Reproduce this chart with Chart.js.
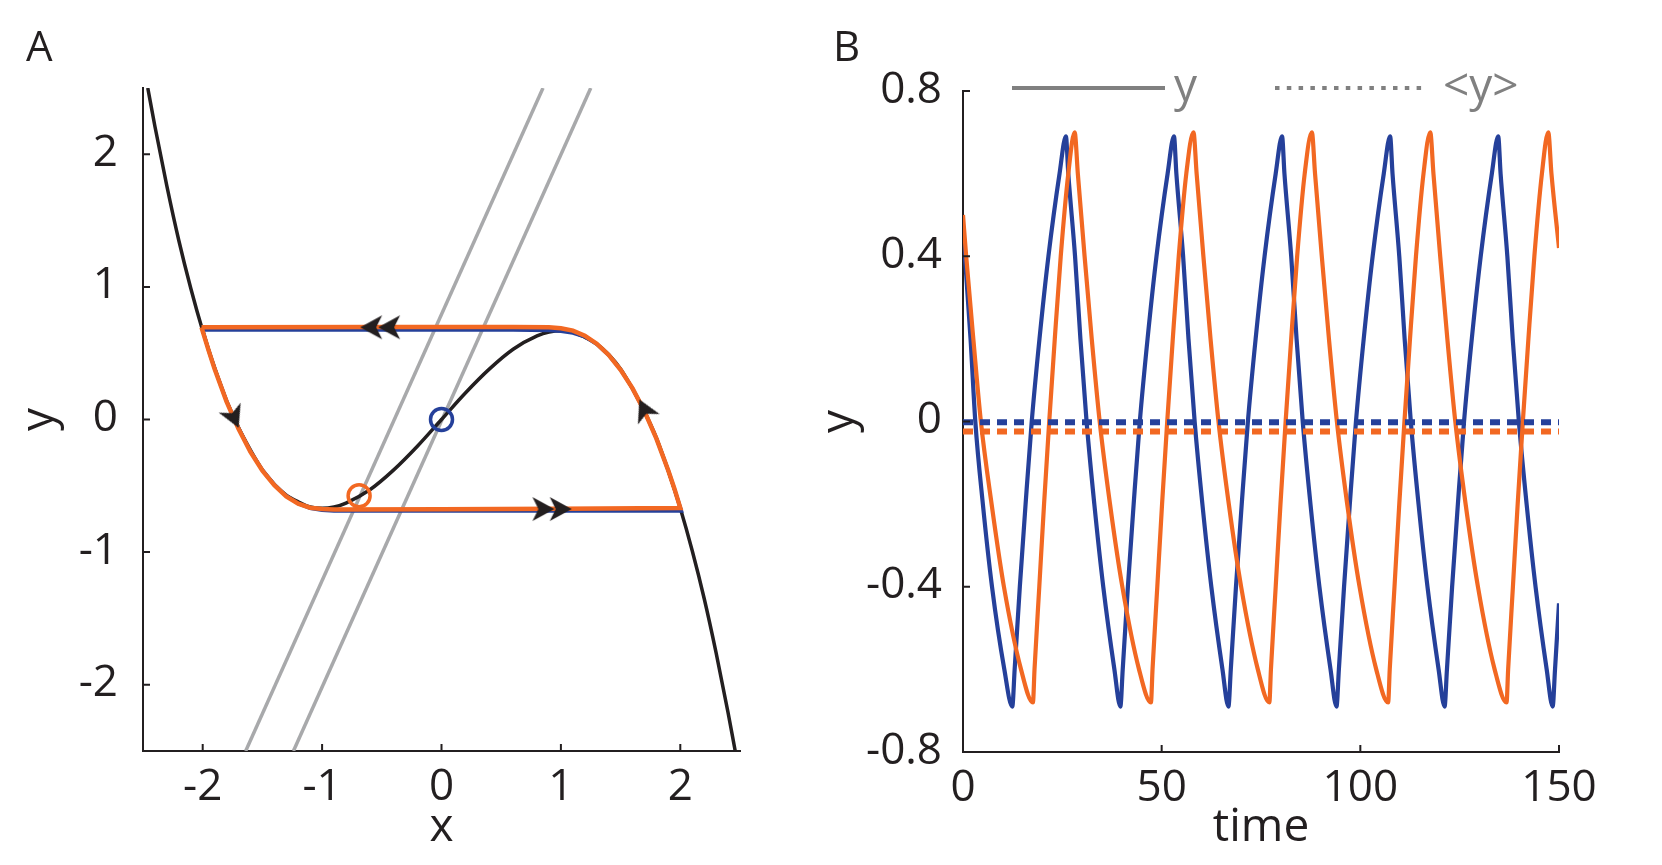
<!DOCTYPE html>
<html>
<head>
<meta charset="utf-8">
<script src="https://cdn.jsdelivr.net/npm/chart.js"></script>
<style>
  html, body { margin: 0; padding: 0; background: #fff; }
  body { width: 1662px; height: 865px; position: relative; overflow: hidden; }
  canvas { position: absolute; top: 0; }
  #phase { left: 0; }
  #trace { left: 800px; }
</style>
</head>
<body>
<canvas id="phase" width="800" height="865"></canvas>
<canvas id="trace" width="862" height="865"></canvas>
<script>
// panel A: phase plane
const xTicksA = [-2, -1, 0, 1, 2]
const xLabelsA = ['-2', '-1', '0', '1', '2']
const yTicksA = [-2, -1, 0, 1, 2]
const yLabelsA = ['-2', '-1', '0', '1', '2']

// cubic nullcline (black)
const cubicX = [-2.46, -2.4, -2.3, -2.2, -2.1, -2.0, -1.9, -1.8, -1.7, -1.6, -1.5, -1.4, -1.3, -1.2, -1.1, -1.0, -0.9, -0.8, -0.6, -0.4, -0.2, 0,
  0.2, 0.4, 0.6, 0.8, 0.9, 1.0, 1.1, 1.2, 1.3, 1.4, 1.5, 1.6, 1.7, 1.8, 1.9, 2.0, 2.1, 2.2, 2.3, 2.4, 2.46]
const cubicY = [2.50, 2.21, 1.76, 1.35, 0.99, 0.67, 0.39, 0.14, -0.06, -0.23, -0.38, -0.49, -0.57, -0.62, -0.66, -0.67, -0.66, -0.63, -0.53, -0.38, -0.20, 0,
  0.20, 0.38, 0.53, 0.63, 0.66, 0.67, 0.66, 0.62, 0.57, 0.49, 0.38, 0.23, 0.06, -0.14, -0.39, -0.67, -0.99, -1.35, -1.76, -2.21, -2.50]

// straight nullclines (grey)
const line1X = [-1.64, 0.85]
const line1Y = [-2.5, 2.5]
const line2X = [-1.24, 1.25]
const line2Y = [-2.5, 2.5]

// limit cycles
const cycleBlueX = [-2.0, -1.95, -1.9, -1.8, -1.7, -1.6, -1.5, -1.4, -1.3, -1.2, -1.1, -1.0, -0.9, 0, 1.0, 2.01,
  1.95, 1.9, 1.8, 1.7, 1.6, 1.5, 1.4, 1.3, 1.2, 1.1, 1.0, 0.9, 0.6, -2.0]
const cycleBlueY = [0.675, 0.52, 0.385, 0.14, -0.065, -0.24, -0.38, -0.49, -0.575, -0.635, -0.67, -0.685, -0.69, -0.69, -0.69, -0.69,
  -0.52, -0.386, -0.144, 0.062, 0.235, 0.375, 0.485, 0.568, 0.624, 0.652, 0.666, 0.672, 0.675, 0.675]
const cycleOrangeX = [-2.01, -1.95, -1.9, -1.8, -1.7, -1.6, -1.5, -1.4, -1.3, -1.2, -1.1, -1.0, -0.9, 0, 1.0, 2.0,
  1.95, 1.9, 1.8, 1.7, 1.6, 1.5, 1.4, 1.3, 1.2, 1.1, 1.0, 0.9, 0.6, -0.5, -2.01]
const cycleOrangeY = [0.695, 0.52, 0.38, 0.135, -0.07, -0.245, -0.385, -0.495, -0.58, -0.635, -0.665, -0.675, -0.678, -0.676, -0.673, -0.667,
  -0.52, -0.386, -0.144, 0.062, 0.235, 0.375, 0.487, 0.572, 0.632, 0.67, 0.688, 0.695, 0.697, 0.697, 0.695]

// fixed points
const fixedBlueX = [0]
const fixedBlueY = [0]
const fixedOrangeX = [-0.69]
const fixedOrangeY = [-0.575]

// direction arrows
const leftArrowX = [-0.58, -0.43]
const leftArrowY = [0.695, 0.695]
const rightArrowX = [0.845, 0.99]
const rightArrowY = [-0.675, -0.675]
const downArrowX = [-1.74]
const downArrowY = [0.02]
const upArrowX = [1.7]
const upArrowY = [0.07]

// panel B: time traces
const xTicksB = [0, 50, 100, 150]
const xLabelsB = ['0', '50', '100', '150']
const yTicksB = [-0.8, -0.4, 0, 0.4, 0.8]
const yLabelsB = ['-0.8', '-0.4', '0', '0.4', '0.8']

const blueT = [0, 0.7, 1.9, 3.1, 5.0, 7.3, 10.4, 12.4,
  13.0, 14.3, 15.75, 17.3, 19.25, 21.5, 24.3, 25.9,
  26.5, 28.2, 29.55, 31.1, 33.05, 35.3, 38.1, 39.6,
  40.2, 41.5, 42.95, 44.5, 46.45, 48.7, 51.5, 53.1,
  53.7, 55.4, 56.75, 58.3, 60.25, 62.5, 65.3, 66.8,
  67.4, 68.7, 70.15, 71.7, 73.65, 75.9, 78.7, 80.3,
  80.9, 82.6, 83.95, 85.5, 87.45, 89.7, 92.5, 94.0,
  94.6, 95.9, 97.35, 98.9, 100.85, 103.1, 105.9, 107.5,
  108.1, 109.8, 111.15, 112.7, 114.65, 116.9, 119.7, 121.2,
  121.8, 123.1, 124.55, 126.1, 128.05, 130.3, 133.1, 134.7,
  135.3, 137.0, 138.35, 139.9, 141.85, 144.1, 146.9, 148.4,
  149.0, 150]
const blueY = [0.45, 0.37, 0.2, 0, -0.2, -0.4, -0.6, -0.69,
  -0.6, -0.4, -0.2, 0, 0.2, 0.4, 0.6, 0.69,
  0.6, 0.4, 0.2, 0, -0.2, -0.4, -0.6, -0.69,
  -0.6, -0.4, -0.2, 0, 0.2, 0.4, 0.6, 0.69,
  0.6, 0.4, 0.2, 0, -0.2, -0.4, -0.6, -0.69,
  -0.6, -0.4, -0.2, 0, 0.2, 0.4, 0.6, 0.69,
  0.6, 0.4, 0.2, 0, -0.2, -0.4, -0.6, -0.69,
  -0.6, -0.4, -0.2, 0, 0.2, 0.4, 0.6, 0.69,
  0.6, 0.4, 0.2, 0, -0.2, -0.4, -0.6, -0.69,
  -0.6, -0.4, -0.2, 0, 0.2, 0.4, 0.6, 0.69,
  0.6, 0.4, 0.2, 0, -0.2, -0.4, -0.6, -0.69,
  -0.6, -0.44]

const orangeT = [0, 0.8, 2.6, 4.5, 7.2, 10.3, 14.6, 17.6,
  18.0, 19.2, 20.4, 21.7, 23.1, 24.6, 26.5, 28.1,
  28.9, 30.6, 32.4, 34.4, 37.0, 40.1, 44.3, 47.3,
  47.7, 48.9, 50.1, 51.4, 52.8, 54.3, 56.2, 58.0,
  58.8, 60.5, 62.3, 64.3, 66.9, 70.0, 74.2, 77.1,
  77.5, 78.7, 79.9, 81.2, 82.6, 84.1, 86.0, 87.8,
  88.6, 90.3, 92.1, 94.1, 96.7, 99.8, 104.0, 107.0,
  107.4, 108.6, 109.8, 111.1, 112.5, 114.0, 115.9, 117.6,
  118.4, 120.1, 121.9, 123.9, 126.5, 129.6, 133.8, 136.8,
  137.2, 138.4, 139.6, 140.9, 142.3, 143.8, 145.7, 147.3,
  148.1, 150]
const orangeY = [0.5, 0.4, 0.2, 0, -0.2, -0.4, -0.6, -0.68,
  -0.6, -0.4, -0.2, 0, 0.2, 0.4, 0.6, 0.7,
  0.6, 0.4, 0.2, 0, -0.2, -0.4, -0.6, -0.68,
  -0.6, -0.4, -0.2, 0, 0.2, 0.4, 0.6, 0.7,
  0.6, 0.4, 0.2, 0, -0.2, -0.4, -0.6, -0.68,
  -0.6, -0.4, -0.2, 0, 0.2, 0.4, 0.6, 0.7,
  0.6, 0.4, 0.2, 0, -0.2, -0.4, -0.6, -0.68,
  -0.6, -0.4, -0.2, 0, 0.2, 0.4, 0.6, 0.7,
  0.6, 0.4, 0.2, 0, -0.2, -0.4, -0.6, -0.68,
  -0.6, -0.4, -0.2, 0, 0.2, 0.4, 0.6, 0.7,
  0.6, 0.42]

const meanT = [0, 150]
const blueMean = [-0.002, -0.002]
const orangeMean = [-0.024, -0.024]

const keyLabels = ['y', '<y>']

const ink = '#231f20'
const blue = '#25409a'
const orange = '#f26822'
const grey = '#a8a9ab'
const keyGrey = '#808080'
const family = 'Open Sans'

const pts = (xs, ys) => xs.map((x, i) => ({x, y: ys[i]}))

// arrowhead used as point style
const chevron = document.createElement('canvas')
chevron.width = 26
chevron.height = 26
const cc = chevron.getContext('2d')
cc.fillStyle = ink
cc.beginPath()
cc.moveTo(25, 13)
cc.lineTo(3, 1)
cc.lineTo(9, 13)
cc.lineTo(3, 25)
cc.closePath()
cc.fill()

function axis(o) {
  return {
    type: 'linear',
    min: o.min,
    max: o.max,
    afterBuildTicks: s => { s.ticks = o.ticks.map(v => ({value: v})) },
    afterFit: s => {
      if (o.width) s.width = o.width
      if (o.height) s.height = o.height
    },
    grid: {display: false, drawTicks: false},
    border: {display: true, color: ink, width: 2},
    ticks: {
      autoSkip: false, maxRotation: 0, color: ink,
      font: {family, size: 44},
      padding: o.pad, labelOffset: o.off || 0,
      callback: (v, i) => o.labels[i]
    },
    title: {display: true, text: o.title, color: ink, font: {family, size: 46}, padding: o.titlePad}
  }
}

// tick marks pointing into the plot
const inTicks = {
  id: 'inTicks',
  afterDraw(chart) {
    const {ctx, chartArea: a, scales: {x, y}} = chart
    ctx.save()
    ctx.strokeStyle = ink
    ctx.lineWidth = 2
    ctx.beginPath()
    x.ticks.forEach(t => {
      const p = x.getPixelForValue(t.value)
      ctx.moveTo(p, a.bottom)
      ctx.lineTo(p, a.bottom - 7)
    })
    y.ticks.forEach(t => {
      const p = y.getPixelForValue(t.value)
      ctx.moveTo(a.left, p)
      ctx.lineTo(a.left + 7, p)
    })
    ctx.stroke()
    ctx.restore()
  }
}

const panelTag = {
  id: 'panelTag',
  afterDraw(chart, args, opts) {
    const ctx = chart.ctx
    ctx.save()
    ctx.fillStyle = ink
    ctx.font = '42px "' + family + '"'
    ctx.textBaseline = 'alphabetic'
    ctx.fillText(opts.text, opts.x, opts.y)
    ctx.restore()
  }
}

const traceKey = {
  id: 'traceKey',
  afterDraw(chart) {
    const ctx = chart.ctx
    ctx.save()
    ctx.strokeStyle = keyGrey
    ctx.fillStyle = keyGrey
    ctx.lineWidth = 4
    ctx.beginPath()
    ctx.moveTo(212, 88)
    ctx.lineTo(365, 88)
    ctx.stroke()
    ctx.setLineDash([4.5, 7.3])
    ctx.beginPath()
    ctx.moveTo(475, 88)
    ctx.lineTo(628, 88)
    ctx.stroke()
    ctx.font = '46px "' + family + '"'
    ctx.textBaseline = 'alphabetic'
    ctx.fillText(keyLabels[0], 374, 101)
    ctx.fillText(keyLabels[1], 643, 101)
    ctx.restore()
  }
}

const line = (data, color, width, order, extra) => Object.assign({
  data, borderColor: color, borderWidth: width, showLine: true,
  pointRadius: 0, tension: 0, order, fill: false
}, extra || {})

const arrows = (data, rot) => ({
  data, showLine: false, pointStyle: chevron, pointRadius: 10,
  rotation: rot, pointRotation: rot, order: 0
})

const ring = (data, color) => ({
  data, showLine: false, pointRadius: 11, pointBorderWidth: 3.5,
  pointBorderColor: color, pointBackgroundColor: 'rgba(0,0,0,0)', order: 1
})

function draw() {
  new Chart(document.getElementById('phase'), {
    type: 'scatter',
    data: {
      datasets: [
        line(pts(line1X, line1Y), grey, 3.5, 6),
        line(pts(line2X, line2Y), grey, 3.5, 6),
        line(pts(cubicX, cubicY), ink, 3.5, 5, {cubicInterpolationMode: 'monotone'}),
        line(pts(cycleBlueX, cycleBlueY), blue, 3.5, 4),
        line(pts(cycleOrangeX, cycleOrangeY), orange, 4.5, 3),
        ring(pts(fixedBlueX, fixedBlueY), blue),
        ring(pts(fixedOrangeX, fixedOrangeY), orange),
        arrows(pts(leftArrowX, leftArrowY), 180),
        arrows(pts(rightArrowX, rightArrowY), 0),
        arrows(pts(downArrowX, downArrowY), 66),
        arrows(pts(upArrowX, upArrowY), 244.5)
      ]
    },
    options: {
      responsive: false,
      animation: false,
      layout: {padding: {left: 0, top: 88, right: 60, bottom: 0}},
      plugins: {legend: {display: false}, tooltip: {enabled: false}, panelTag: {text: 'A', x: 26, y: 61}},
      scales: {
        x: axis({min: -2.5, max: 2.5, ticks: xTicksA, labels: xLabelsA, height: 114, pad: 10, title: 'x', titlePad: {top: 0, bottom: 10}}),
        y: axis({min: -2.5, max: 2.5, ticks: yTicksA, labels: yLabelsA, width: 143, pad: 25, off: -1, title: 'y', titlePad: {top: 12, bottom: 0}})
      }
    },
    plugins: [inTicks, panelTag]
  })

  new Chart(document.getElementById('trace'), {
    type: 'scatter',
    data: {
      datasets: [
        line(pts(blueT, blueY), blue, 4.2, 3, {cubicInterpolationMode: 'monotone'}),
        line(pts(orangeT, orangeY), orange, 4.2, 2, {cubicInterpolationMode: 'monotone'}),
        line(pts(meanT, orangeMean), orange, 6, 1, {borderDash: [10, 7]}),
        line(pts(meanT, blueMean), blue, 6, 0, {borderDash: [10, 7]})
      ]
    },
    options: {
      responsive: false,
      animation: false,
      layout: {padding: {left: 0, top: 91, right: 103, bottom: 0}},
      plugins: {legend: {display: false}, tooltip: {enabled: false}, panelTag: {text: 'B', x: 33, y: 61}},
      scales: {
        x: axis({min: 0, max: 150, ticks: xTicksB, labels: xLabelsB, height: 113, pad: 10, title: 'time', titlePad: {top: 0, bottom: 10}}),
        y: axis({min: -0.8, max: 0.8, ticks: yTicksB, labels: yLabelsB, width: 163, pad: 21, off: -1, title: 'y', titlePad: {top: 12, bottom: 0}})
      }
    },
    plugins: [inTicks, panelTag, traceKey]
  })
}

if (document.fonts && document.fonts.load) {
  document.fonts.load('44px "Open Sans"').then(draw, draw)
} else {
  draw()
}
</script>
</body>
</html>
